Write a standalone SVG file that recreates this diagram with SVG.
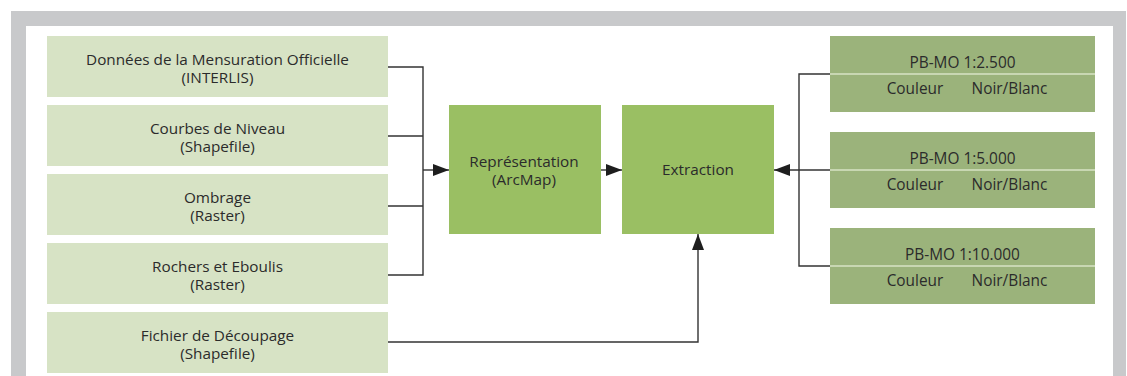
<svg xmlns="http://www.w3.org/2000/svg" width="1127" height="376" viewBox="0 0 1127 376">
<defs>
<marker id="ah" markerWidth="16" markerHeight="12" refX="16" refY="6" orient="auto" markerUnits="userSpaceOnUse">
<path d="M0,0 L16,6 L0,12 Z" fill="#1e1e1e"/>
</marker>
<style>
text{font-family:"Open Sans","Liberation Sans",sans-serif;fill:#2b2b2b;text-anchor:middle}
.src rect{fill:#d7e3c5}
.proc rect{fill:#9abf63}
.out rect{fill:#9bb37b}
.sep{stroke:#d7e3c5;stroke-width:1.5}
.t14{font-size:15.3px}
.t13{font-size:15.4px}
.c{fill:none;stroke:#333;stroke-width:1.4}
</style>
</defs>
<rect x="0" y="0" width="1127" height="376" fill="#ffffff"/>
<rect x="11" y="11" width="1115" height="366" fill="#c8c9cb"/>
<rect x="26" y="26" width="1087" height="351" fill="#ffffff"/>

<g id="n-mo" class="src"><rect x="47" y="36" width="341" height="61"/>
<text class="t14" x="217.5" y="65">Données de la Mensuration Officielle</text>
<text class="t14" x="217.5" y="83">(INTERLIS)</text></g>
<g id="n-courbes" class="src"><rect x="47" y="105" width="341" height="61"/>
<text class="t14" x="217.5" y="134">Courbes de Niveau</text>
<text class="t14" x="217.5" y="152">(Shapefile)</text></g>
<g id="n-ombrage" class="src"><rect x="47" y="174" width="341" height="61"/>
<text class="t14" x="217.5" y="203">Ombrage</text>
<text class="t14" x="217.5" y="221">(Raster)</text></g>
<g id="n-rochers" class="src"><rect x="47" y="243" width="341" height="61"/>
<text class="t14" x="217.5" y="272">Rochers et Eboulis</text>
<text class="t14" x="217.5" y="290">(Raster)</text></g>
<g id="n-decoupage" class="src"><rect x="47" y="312" width="341" height="61"/>
<text class="t14" x="217.5" y="341">Fichier de Découpage</text>
<text class="t14" x="217.5" y="359">(Shapefile)</text></g>

<g id="n-representation" class="proc"><rect x="449" y="105" width="152" height="129"/>
<text class="t14" x="524" y="167">Représentation</text>
<text class="t14" x="524" y="185">(ArcMap)</text></g>
<g id="n-extraction" class="proc"><rect x="622" y="105" width="152" height="129"/>
<text class="t14" x="698" y="175">Extraction</text></g>

<g id="n-pb2500" class="out"><rect x="830" y="36" width="265" height="76"/>
<line class="sep" x1="830" y1="74" x2="1095" y2="74"/>
<text class="t13" x="962.5" y="68">PB-MO 1:2.500</text>
<text class="t13" x="915" y="94">Couleur</text>
<text class="t13" x="1009.5" y="94">Noir/Blanc</text></g>
<g id="n-pb5000" class="out"><rect x="830" y="132" width="265" height="76"/>
<line class="sep" x1="830" y1="170" x2="1095" y2="170"/>
<text class="t13" x="962.5" y="164">PB-MO 1:5.000</text>
<text class="t13" x="915" y="190">Couleur</text>
<text class="t13" x="1009.5" y="190">Noir/Blanc</text></g>
<g id="n-pb10000" class="out"><rect x="830" y="228" width="265" height="76"/>
<line class="sep" x1="830" y1="266" x2="1095" y2="266"/>
<text class="t13" x="962.5" y="260">PB-MO 1:10.000</text>
<text class="t13" x="915" y="286">Couleur</text>
<text class="t13" x="1009.5" y="286">Noir/Blanc</text></g>

<g id="connectors">
<path class="c" d="M388,67 H423 V275 H388"/>
<path class="c" d="M388,136 H423"/>
<path class="c" d="M388,206 H423"/>
<path class="c" d="M423,170 H449" marker-end="url(#ah)"/>
<path class="c" d="M601,170 H622" marker-end="url(#ah)"/>
<path class="c" d="M830,74 H799 V266 H830"/>
<path class="c" d="M830,170 H774" marker-end="url(#ah)"/>
<path class="c" d="M388,342 H698 V234" marker-end="url(#ah)"/>
</g>
</svg>
